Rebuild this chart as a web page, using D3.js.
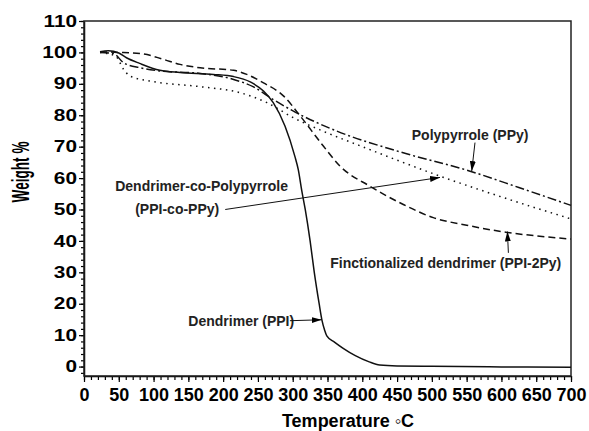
<!DOCTYPE html>
<html>
<head>
<meta charset="utf-8">
<script src="https://cdn.jsdelivr.net/npm/d3@7"></script>
<style>
  body { margin: 0; background: #fff; }
  svg { display: block; font-family: "Liberation Sans", Arial, sans-serif; font-weight: bold; }
</style>
</head>
<body>
<svg id="chart" width="589" height="431"></svg>
<script>
// Dendrimer (PPI) - solid
var ppiT = [23, 35, 50, 61, 80, 109, 138, 186, 215, 239, 258, 272, 289, 303, 308, 313, 318, 325, 331, 338, 342, 346, 349, 360, 372, 390, 410, 425, 450, 500, 600, 700];
var ppiW = [100.2, 100.5, 99.8, 98.3, 96.5, 94.3, 93.6, 93.0, 92.3, 90.6, 87.7, 84, 76.5, 67, 62.7, 56, 50, 40, 30, 20, 14.8, 11.5, 9.8, 7.8, 5.9, 3.5, 1.5, 0.5, 0.2, 0.1, -0.1, -0.2];

// Functionalized dendrimer (PPI-2Py) - dashed
var ppi2pyT = [23, 50, 85, 114, 138, 167, 215, 234, 258, 287, 310, 344, 368, 411, 459, 502, 550, 608, 650, 700];
var ppi2pyW = [100.2, 100, 99.5, 97.8, 96.2, 95.1, 94.3, 93.0, 90.3, 86.1, 80, 70.2, 63.8, 57.4, 51.6, 47.4, 45, 42.7, 41.6, 40.6];

// Polypyrrole (PPy) - dash-dot
var ppyT = [23, 42, 57, 81, 109, 167, 215, 243, 272, 301, 363, 455, 555, 625, 700];
var ppyW = [100, 99.7, 96.7, 95.1, 94.1, 93.3, 91.4, 89.1, 85, 81.3, 75, 68.3, 62.2, 57, 51.3];

// Dendrimer-co-Polypyrrole (PPI-co-PPy) - dotted
var copT = [23, 45, 57, 66, 95, 167, 224, 263, 301, 344, 400, 512, 600, 700];
var copW = [100, 98.9, 94.6, 92.5, 90.9, 89.1, 87.2, 84, 79.2, 74.9, 70, 60.6, 54, 47];

var xTicks = [0, 50, 100, 150, 200, 250, 300, 350, 400, 450, 500, 550, 600, 650, 700];
var yTicks = [0, 10, 20, 30, 40, 50, 60, 70, 80, 90, 100, 110];

// labels: text lines, anchor point (T, W); arrows: from -> to (T, W)
var labelText = ["Polypyrrole (PPy)", "Dendrimer-co-Polypyrrole", "(PPI-co-PPy)", "Finctionalized dendrimer (PPI-2Py)", "Dendrimer (PPI)"];
var labelT = [555, 169, 134, 520, 150];
var labelW = [72.1, 56.0, 48.5, 31.5, 13.0];
var arrowFrom = [[562, 71.3], [203, 50], [610, 36.2], [296, 14.6]];
var arrowTo = [[557.3, 62.2], [511.7, 60.2], [608.6, 43.0], [341.6, 14.9]];

var svg = d3.select("#chart"),
    plotLeft = 84, plotRight = 571, plotTop = 21, plotBottom = 376;

var x = d3.scaleLinear().domain([0, 700]).range([plotLeft, plotRight]);
var y = d3.scaleLinear().domain([-3, 110]).range([plotBottom, plotTop]);

// arrow head
svg.append("defs").append("marker")
    .attr("id", "head")
    .attr("viewBox", "0 0 10 6")
    .attr("refX", 10).attr("refY", 3)
    .attr("markerWidth", 10).attr("markerHeight", 6)
    .attr("markerUnits", "userSpaceOnUse")
    .attr("orient", "auto")
  .append("path")
    .attr("d", "M0,0L10,3L0,6Z")
    .attr("fill", "#000");

// X axis (major + minor)
svg.append("g")
    .attr("transform", "translate(0," + plotBottom + ")")
    .call(d3.axisBottom(x).tickValues(d3.range(0, 701, 10)).tickSize(4).tickFormat(""))
    .call(function (g) { g.select(".domain").remove(); });

var xAxis = svg.append("g")
    .attr("transform", "translate(0," + plotBottom + ")")
    .call(d3.axisBottom(x).tickValues(xTicks).tickSize(6).tickPadding(6).tickSizeOuter(0));
xAxis.selectAll("text")
    .style("font-size", "18px")
    .style("font-weight", "bold")
    .style("font-family", "'Liberation Sans', Arial, sans-serif")
    .attr("dy", "0.71em");

// Y axis (major + minor)
svg.append("g")
    .attr("transform", "translate(" + plotLeft + ",0)")
    .call(d3.axisLeft(y).tickValues(d3.range(-2, 111, 2)).tickSize(3).tickFormat(""))
    .call(function (g) { g.select(".domain").remove(); });

var yAxis = svg.append("g")
    .attr("transform", "translate(" + plotLeft + ",0)")
    .call(d3.axisLeft(y).tickValues(yTicks).tickSize(5).tickSizeOuter(0));
yAxis.selectAll("text")
    .style("font-size", "16px")
    .style("font-weight", "bold")
    .style("font-family", "'Liberation Sans', Arial, sans-serif")
    .attr("x", -7 / 1.3)
    .attr("transform", "scale(1.3,1)");

svg.selectAll(".domain").attr("stroke-width", 1.5);
svg.selectAll(".tick line").attr("stroke-width", 1.2);

// frame
svg.append("rect")
    .attr("x", plotLeft).attr("y", plotTop)
    .attr("width", plotRight - plotLeft).attr("height", plotBottom - plotTop)
    .attr("fill", "none")
    .attr("stroke", "#222")
    .attr("stroke-width", 1.5);

// curves
var series = [
    { t: ppiT, w: ppiW, dash: null },
    { t: ppi2pyT, w: ppi2pyW, dash: "7,4" },
    { t: ppyT, w: ppyW, dash: "9,3,2,3" },
    { t: copT, w: copW, dash: "1.5,4.5" }
];

var line = d3.line()
    .x(function (d) { return x(d[0]); })
    .y(function (d) { return y(d[1]); })
    .curve(d3.curveMonotoneX);

series.forEach(function (s) {
    svg.append("path")
        .datum(d3.zip(s.t, s.w))
        .attr("d", line)
        .attr("fill", "none")
        .attr("stroke", "#111")
        .attr("stroke-width", 1.5)
        .attr("stroke-dasharray", s.dash);
});

// annotations
var anchors = ["middle", "middle", "middle", "middle", "start"];
labelText.forEach(function (txt, i) {
    svg.append("text")
        .attr("x", x(labelT[i]))
        .attr("y", y(labelW[i]))
        .attr("text-anchor", anchors[i])
        .style("font-size", "14px")
        .attr("fill", "#222")
        .text(txt);
});

arrowFrom.forEach(function (f, i) {
    svg.append("line")
        .attr("x1", x(f[0])).attr("y1", y(f[1]))
        .attr("x2", x(arrowTo[i][0])).attr("y2", y(arrowTo[i][1]))
        .attr("stroke", "#111")
        .attr("stroke-width", 1)
        .attr("marker-end", "url(#head)");
});

// axis titles
svg.append("text")
    .attr("transform", "translate(29,172) rotate(-90) scale(0.8,1.4)")
    .attr("text-anchor", "middle")
    .style("font-size", "17px")
    .text("Weight %");

svg.append("text")
    .attr("x", 348).attr("y", 427)
    .attr("text-anchor", "middle")
    .style("font-size", "18px")
    .text("Temperature \u25E6C");
</script>
</body>
</html>
